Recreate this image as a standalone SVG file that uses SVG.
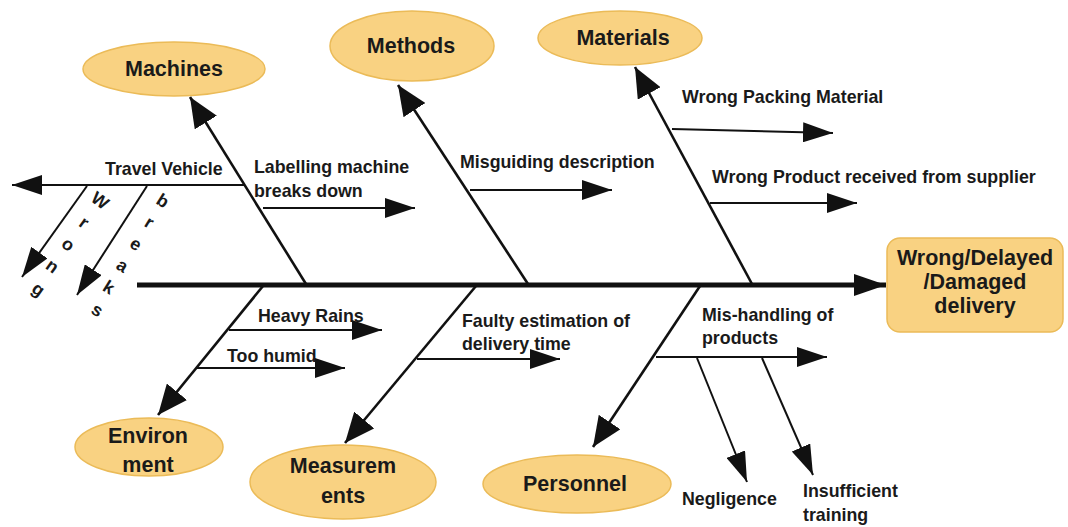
<svg xmlns="http://www.w3.org/2000/svg" width="1068" height="527" viewBox="0 0 1068 527">
  <style>
    .node { fill: #F9D282; stroke: #EBBB58; stroke-width: 1.5; }
    .title { font-family: "Liberation Sans", Arial, sans-serif; font-weight: bold; font-size: 21.5px; fill: #1a1a1a; text-anchor: middle; }
    .lbl { font-family: "Liberation Sans", Arial, sans-serif; font-weight: bold; font-size: 17.8px; fill: #1a1a1a; }
    .bone { stroke: #111; stroke-width: 2.6; fill: none; marker-end: url(#big); }
    .sub { stroke: #111; stroke-width: 2; fill: none; marker-end: url(#small); }
    .spine { stroke: #111; stroke-width: 5; fill: none; marker-end: url(#head); }
  </style>
  <defs>
    <marker id="big" viewBox="0 0 30 26" refX="30" refY="13" markerWidth="30" markerHeight="26" markerUnits="userSpaceOnUse" orient="auto">
      <path d="M0,0 L30,13 L0,26 z" fill="#111"/>
    </marker>
    <marker id="small" viewBox="0 0 30 20" refX="30" refY="10" markerWidth="30" markerHeight="20" markerUnits="userSpaceOnUse" orient="auto">
      <path d="M0,0 L30,10 L0,20 z" fill="#111"/>
    </marker>
    <marker id="head" viewBox="0 0 32 22" refX="32" refY="11" markerWidth="32" markerHeight="22" markerUnits="userSpaceOnUse" orient="auto">
      <path d="M0,0 L32,11 L0,22 z" fill="#111"/>
    </marker>
  </defs>

  <rect width="1068" height="527" fill="#fff"/>

  <!-- connectors: spine, main bones, sub-causes -->
  <g id="connectors">
    <line class="spine" x1="137" y1="285" x2="886" y2="285"/>

    <line class="bone" x1="306" y1="284" x2="190" y2="97"/>
    <line class="bone" x1="528" y1="284" x2="398" y2="85"/>
    <line class="bone" x1="752" y1="284" x2="635" y2="67"/>
    <line class="bone" x1="263" y1="286" x2="158" y2="415"/>
    <line class="bone" x1="476" y1="286" x2="345" y2="443"/>
    <line class="bone" x1="700" y1="286" x2="593" y2="447"/>

    <line class="sub" x1="244" y1="185" x2="12" y2="185"/>
    <line class="sub" x1="87" y1="186" x2="22" y2="277"/>
    <line class="sub" x1="147" y1="186" x2="77" y2="295"/>
    <line class="sub" x1="263" y1="208" x2="415" y2="208"/>
    <line class="sub" x1="470" y1="190" x2="612" y2="190"/>
    <line class="sub" x1="672" y1="129" x2="833" y2="133"/>
    <line class="sub" x1="710" y1="203" x2="857" y2="203"/>
    <line class="sub" x1="229" y1="330" x2="382" y2="330"/>
    <line class="sub" x1="197" y1="368" x2="345" y2="368"/>
    <line class="sub" x1="417" y1="359" x2="560" y2="359"/>
    <line class="sub" x1="656" y1="357" x2="827" y2="357"/>
    <line class="sub" x1="697" y1="358" x2="747" y2="482"/>
    <line class="sub" x1="762" y1="358" x2="813" y2="475"/>
  </g>

  <!-- cause category nodes -->
  <g id="machines">
    <ellipse class="node" cx="174" cy="69" rx="91" ry="27"/>
    <text class="title" x="174" y="76">Machines</text>
  </g>
  <g id="methods">
    <ellipse class="node" cx="412" cy="46" rx="82" ry="35"/>
    <text class="title" x="411" y="53">Methods</text>
  </g>
  <g id="materials">
    <ellipse class="node" cx="620" cy="38" rx="82" ry="27"/>
    <text class="title" x="623" y="45">Materials</text>
  </g>
  <g id="environment">
    <ellipse class="node" cx="149" cy="447" rx="74" ry="29"/>
    <text class="title" x="148" y="443">Environ</text>
    <text class="title" x="148" y="472">ment</text>
  </g>
  <g id="measurements">
    <ellipse class="node" cx="343" cy="482" rx="93" ry="37"/>
    <text class="title" x="343" y="473">Measurem</text>
    <text class="title" x="343" y="503">ents</text>
  </g>
  <g id="personnel">
    <ellipse class="node" cx="577" cy="484" rx="94" ry="29"/>
    <text class="title" x="575" y="491">Personnel</text>
  </g>

  <!-- effect -->
  <g id="effect">
    <rect class="node" x="887" y="238" width="176" height="94" rx="13"/>
    <text class="title" x="975" y="265" font-size="20.5">Wrong/Delayed</text>
    <text class="title" x="975" y="289" font-size="20.5">/Damaged</text>
    <text class="title" x="975" y="313" font-size="20.5">delivery</text>
  </g>

  <!-- cause labels -->
  <g id="labels">
    <text class="lbl" x="105" y="175">Travel Vehicle</text>
    <text class="lbl" x="254" y="173">Labelling machine</text>
    <text class="lbl" x="254" y="197">breaks down</text>
    <text class="lbl" x="460" y="168">Misguiding description</text>
    <text class="lbl" x="682" y="103">Wrong Packing Material</text>
    <text class="lbl" x="712" y="183">Wrong Product received from supplier</text>
    <text class="lbl" x="258" y="322">Heavy Rains</text>
    <text class="lbl" x="227" y="362">Too humid</text>
    <text class="lbl" x="462" y="327">Faulty estimation of</text>
    <text class="lbl" x="462" y="350">delivery time</text>
    <text class="lbl" x="702" y="321">Mis-handling of</text>
    <text class="lbl" x="702" y="344">products</text>
    <text class="lbl" x="682" y="505">Negligence</text>
    <text class="lbl" x="803" y="497">Insufficient</text>
    <text class="lbl" x="803" y="521">training</text>

    <!-- stacked letters running along the slanted sub-cause lines -->
    <g transform="translate(102,202) rotate(36)">
      <text class="lbl" text-anchor="middle" font-size="17">
        <tspan x="0" y="6">W</tspan>
        <tspan x="0" y="33">r</tspan>
        <tspan x="0" y="60">o</tspan>
        <tspan x="0" y="87">n</tspan>
        <tspan x="0" y="114">g</tspan>
      </text>
    </g>
    <g transform="translate(165,202) rotate(32)">
      <text class="lbl" text-anchor="middle" font-size="17">
        <tspan x="0" y="6">b</tspan>
        <tspan x="0" y="31.5">r</tspan>
        <tspan x="0" y="57">e</tspan>
        <tspan x="0" y="82.5">a</tspan>
        <tspan x="0" y="108">k</tspan>
        <tspan x="0" y="133.5">s</tspan>
      </text>
    </g>
  </g>
</svg>
